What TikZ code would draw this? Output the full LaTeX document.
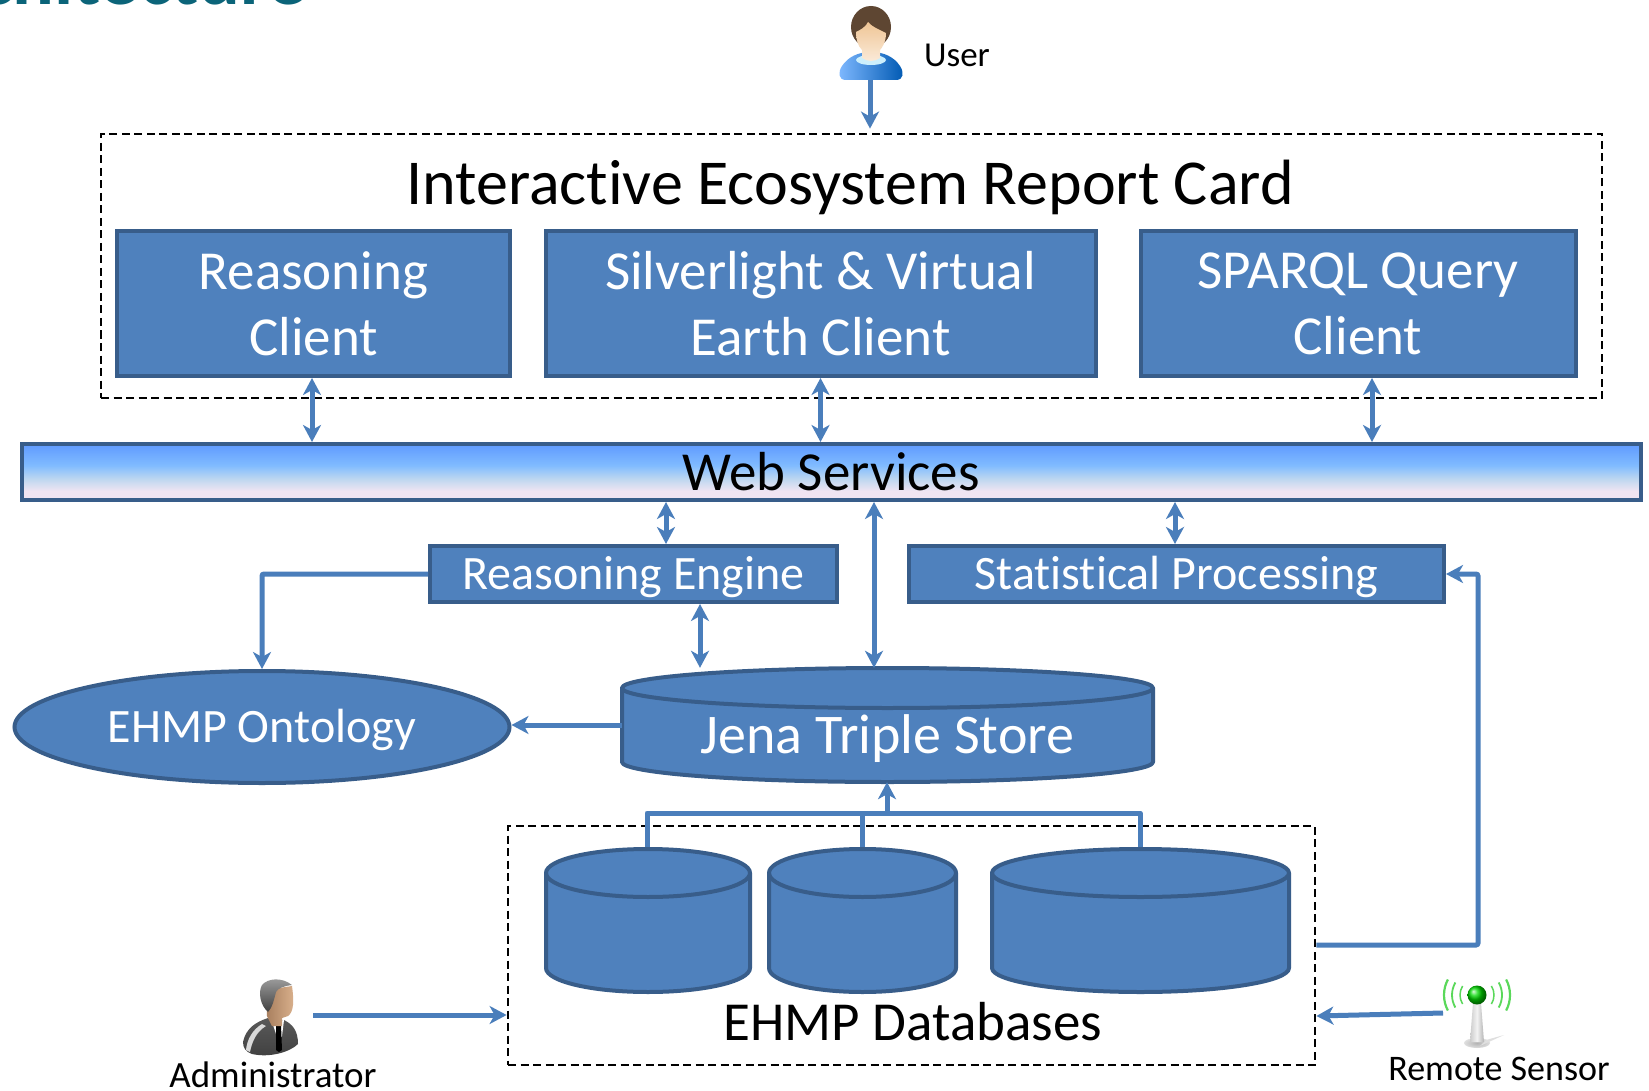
\documentclass[tikz,border=0pt]{standalone}
\usepackage{fontspec}
\setmainfont[Ligatures=NoCommon]{Carlito}
\usetikzlibrary{arrows.meta,calc,shadings,shapes.geometric}
\definecolor{boxfill}{HTML}{4F81BD}
\definecolor{boxline}{HTML}{385D8A}
\definecolor{conn}{HTML}{4A7EBB}
\definecolor{teal}{HTML}{0B6479}
\definecolor{wa}{HTML}{F0E4F2}
\definecolor{wb}{HTML}{BDD7F0}
\definecolor{wc}{HTML}{80BBFF}
\definecolor{wd}{HTML}{5F9AFF}
\definecolor{sensorgreen}{HTML}{5AD85A}
\definecolor{hairbrown}{HTML}{5E4632}
\definecolor{skintop}{HTML}{EFC595}
\definecolor{skinlow}{HTML}{FBEBDA}
\definecolor{admskina}{HTML}{A87F5E}
\definecolor{admskinb}{HTML}{D9B08C}
\pgfdeclareverticalshading{webgrad}{100bp}{
 color(0bp)=(wa);
 color(25bp)=(wa);
 color(33bp)=(wa);
 color(44bp)=(wb);
 color(56bp)=(wc);
 color(75bp)=(wd);
 color(100bp)=(wd)}
\newcommand{\fsz}[1]{\fontsize{#1}{#1}\selectfont}
\tikzset{
 x=1pt,y=-1pt,
 bluebox/.style={draw=boxline,fill=boxfill,line width=4pt,text=white,inner sep=0pt,align=center,rectangle},
 twoline/.style={font=\fontsize{55}{66}\selectfont},
 dashbox/.style={draw=black,line width=2.8pt,dash pattern=on 8pt off 4.5pt,rectangle,inner sep=0pt},
 arr/.style={draw=conn,line width=5pt,-{Stealth[length=17pt,width=18pt,inset=5pt]}},
 dbl/.style={draw=conn,line width=5pt,{Stealth[length=17pt,width=18pt,inset=5pt]}-{Stealth[length=17pt,width=18pt,inset=5pt]}},
 plainconn/.style={draw=conn,line width=5pt,line join=round},
 lbl/.style={inner sep=0pt,align=center,text=black},
 cylshape/.style={draw=boxline,fill=boxfill,line width=4pt,line join=round},
}
% name, x0, x1, ytop, ybot, ry, text
\newcommand{\cylinderitem}[7]{%
 \pgfmathsetmacro{\cxm}{(#2+#3)/2}%
 \pgfmathsetmacro{\kx}{0.5523*(#3-#2)/2}%
 \pgfmathsetmacro{\ky}{0.5523*#6}%
 \pgfmathsetmacro{\ya}{#4+#6}%
 \pgfmathsetmacro{\yb}{#5-#6}%
 \path[cylshape] (#2,\ya) .. controls (#2,\ya-\ky) and (\cxm-\kx,#4) .. (\cxm,#4)
   .. controls (\cxm+\kx,#4) and (#3,\ya-\ky) .. (#3,\ya) -- (#3,\yb)
   .. controls (#3,\yb+\ky) and (\cxm+\kx,#5) .. (\cxm,#5)
   .. controls (\cxm-\kx,#5) and (#2,\yb+\ky) .. (#2,\yb) -- cycle;
 \draw[boxline,line width=4pt] (#2,\ya) .. controls (#2,\ya+\ky) and (\cxm-\kx,\ya+#6) .. (\cxm,\ya+#6)
   .. controls (\cxm+\kx,\ya+#6) and (#3,\ya+\ky) .. (#3,\ya);
 \node[rectangle,inner sep=0pt,minimum width={(#3)-(#2)},minimum height={(#5)-(#4)},text=white] (#1) at (\cxm,{(#4+#5)/2}) {#7};
}
\begin{document}
\begin{tikzpicture}
\useasboundingbox (0,0) rectangle (1649,1091);
\fill[white] (0,0) rectangle (1649,1091);
% cropped heading
\begin{scope}
\clip (0,0) rectangle (1649,1091);
\node[anchor=base east,inner sep=0pt,text=teal] (heading) at (307,5) {\fsz{78}\bfseries Architecture};
\end{scope}

% user icon
\shade[left color=cyan!45!blue!50!white,right color=blue!50!cyan!70!black]
  (846,80) .. controls (838,80) and (838,72) .. (842,66) .. controls (848,57) and (858,52) .. (871,52) .. controls (884,52) and (894,57) .. (900,66) .. controls (904,72) and (904,80) .. (896,80) -- cycle;
\fill[cyan!20!white] (871,60) ellipse (15 and 5);
\fill[hairbrown] (871,27) ellipse (20 and 21);
\shade[top color=skintop,bottom color=skinlow] (856,32) .. controls (860,30) and (866,27) .. (868,22) .. controls (872,27) and (880,30) .. (886,33)
  .. controls (886,42) and (882,48) .. (880,50) -- (880,58) .. controls (874,62) and (868,62) .. (862,58) -- (862,50) .. controls (858,46) and (856,40) .. (856,32) -- cycle;
\node[lbl,anchor=center] (usertext) at (957,55) {\fsz{35}User};
\coordinate (userfoot) at (870,80);

% outer dashed box
\node[dashbox,minimum width=1501pt,minimum height=264pt] (ecobox) at (851.5,266) {};
\node[lbl] (ecotitle) at (850,187) {\fsz{64}Interactive Ecosystem Report Card};

% clients
\node[bluebox,twoline,minimum width=393pt,minimum height=145pt] (rclient) at (313.5,303.5) {Reasoning\\Client};
\node[bluebox,twoline,minimum width=550pt,minimum height=145pt] (sclient) at (820.5,303.5) {Silverlight \& Virtual\\Earth Client};
\node[bluebox,twoline,minimum width=435pt,minimum height=145pt] (qclient) at (1358,303.5) {SPARQL Query\\Client};

% web services
\node[draw=boxline,line width=4pt,shading=webgrad,rectangle,inner sep=0pt,minimum width=1619pt,minimum height=56pt,text=black] (web) at (831,472) {\fsz{55}Web Services};

% engine, statistics
\node[bluebox,minimum width=407pt,minimum height=56pt] (engine) at (633.5,574) {\raisebox{-15pt}[0pt][0pt]{\fsz{48}Reasoning Engine}};
\node[bluebox,minimum width=535pt,minimum height=56pt] (stats) at (1176.5,574) {\raisebox{-15pt}[0pt][0pt]{\fsz{48}Statistical Processing}};

% ontology
\node[draw=boxline,fill=boxfill,line width=4pt,ellipse,inner sep=0pt,minimum width=495pt,minimum height=112pt,text=white] (onto) at (262,727) {\raisebox{-15pt}[0pt][0pt]{\fsz{48}EHMP Ontology}};

% databases frame
\node[dashbox,minimum width=807pt,minimum height=239pt] (dbframe) at (911.5,945.5) {};
\node[lbl] (dbtitle) at (913,1022) {\fsz{55}EHMP Databases};

% connectors under cylinders
\draw[plainconn] (647,850) -- (647,813) -- (1140,813) -- (1140,850);
\draw[plainconn] (862,850) -- (862,813);

% cylinders
\cylinderitem{jena}{622}{1153}{668}{782}{20}{\raisebox{-28pt}[0pt][0pt]{\fsz{56}Jena Triple Store}}
\cylinderitem{dba}{546}{750}{849}{992}{24}{}
\cylinderitem{dbb}{769}{956}{849}{992}{24}{}
\cylinderitem{dbc}{992}{1289}{849}{992}{24}{}

% admin icon
\shade[top color=gray!70!black,bottom color=black!75] (243,1042) .. controls (246,1028) and (256,1022) .. (268,1018) -- (272,1022) -- (284,1020) .. controls (292,1024) and (298,1030) .. (298,1044) .. controls (290,1052) and (270,1058) .. (252,1054) .. controls (246,1052) and (243,1048) .. (243,1042) -- cycle;
\fill[gray!30] (262,1024) .. controls (252,1030) and (247,1040) .. (246,1050) -- (250,1052) .. controls (252,1042) and (256,1032) .. (266,1026) -- cycle;
\fill[white] (272,1022) -- (284,1020) -- (282,1036) -- (278,1040) -- cycle;
\fill[black] (276,1025) -- (281,1025) -- (282,1050) -- (279,1052) -- (276,1050) -- cycle;
\shade[left color=admskina,right color=admskinb] (266,990) -- (292,986) .. controls (294,1000) and (294,1012) .. (288,1016) -- (282,1018) -- (282,1026) -- (272,1026) -- (267,1016) -- cycle;
\shade[top color=gray!75,bottom color=black!75] (268,1012) .. controls (260,1005) and (258,992) .. (262,985) .. controls (268,978) and (282,977) .. (292,985) .. controls (284,986) and (278,988) .. (276,992) .. controls (274,1000) and (272,1008) .. (268,1012) -- cycle;
\node[lbl] (admintext) at (273,1075) {\fsz{37}Administrator};
\coordinate (adminout) at (313,1015);

% sensor icon
\shade[inner color=gray!60,outer color=gray!25] (1477,1043) ellipse (13 and 5);
\fill[gray!25] (1480,1046) -- (1504,1035) -- (1486,1040) -- cycle;
\shade[left color=gray!40,right color=gray!60,middle color=gray!10] (1473,1003) -- (1481,1003) -- (1484,1042) -- (1470,1042) -- cycle;
\shade[ball color=green!85!black] (1477,995) circle (9.5);
\foreach \r/\w/\a in {17/1.5/32,25/1.8/30,33/2.2/28}{
 \draw[sensorgreen,line width=\w pt] ($(1477,995)+(180+\a:\r)$) arc[start angle=180+\a,end angle=180-\a,radius=\r];
 \draw[sensorgreen,line width=\w pt] ($(1477,995)+(-\a:\r)$) arc[start angle=-\a,end angle=\a,radius=\r];
}
\node[lbl] (sensortext) at (1499,1069) {\fsz{36}Remote Sensor};
\coordinate (sensorout) at (1443,1013);

% connectors
\draw[arr] (userfoot) -- ($(ecobox.north -| userfoot)+(0,-4)$);

\coordinate (cx1) at (312,0);
\coordinate (cx2) at (820.5,0);
\coordinate (cx3) at (1372,0);
\coordinate (cx4) at (666,0);
\coordinate (cx5) at (874,0);
\coordinate (cx6) at (1175,0);
\coordinate (cx7) at (700,0);
\coordinate (cx8) at (887,0);
\coordinate (cy1) at (0,725);
\coordinate (cy2) at (0,813);
\coordinate (cy3) at (0,945);
\draw[dbl] (cx1 |- rclient.south) -- (cx1 |- web.north);
\draw[dbl] (cx2 |- sclient.south) -- (cx2 |- web.north);
\draw[dbl] (cx3 |- qclient.south) -- (cx3 |- web.north);
\draw[dbl] (cx4 |- web.south) -- (cx4 |- engine.north);
\draw[dbl] (cx5 |- web.south) -- (cx5 |- jena.north);
\draw[dbl] (cx6 |- web.south) -- (cx6 |- stats.north);
\draw[dbl] (cx7 |- engine.south) -- (cx7 |- jena.north);
\draw[arr,rounded corners=2pt] (engine.west) -| (onto.north);
\draw[arr] (jena.west |- cy1) -- (onto.east |- cy1);
\draw[arr] (cx8 |- cy2) -- (cx8 |- jena.south);
\coordinate (frameout) at (dbframe.east |- cy3);
\draw[arr,rounded corners=2pt] (frameout) -- (1478,945) -- (1478,574) -- (stats.east);
\draw[arr] (adminout) -- (dbframe.west |- adminout);
\draw[arr] (sensorout) -- ($(dbframe.east |- sensorout)+(0,3)$);
\end{tikzpicture}
\end{document}
